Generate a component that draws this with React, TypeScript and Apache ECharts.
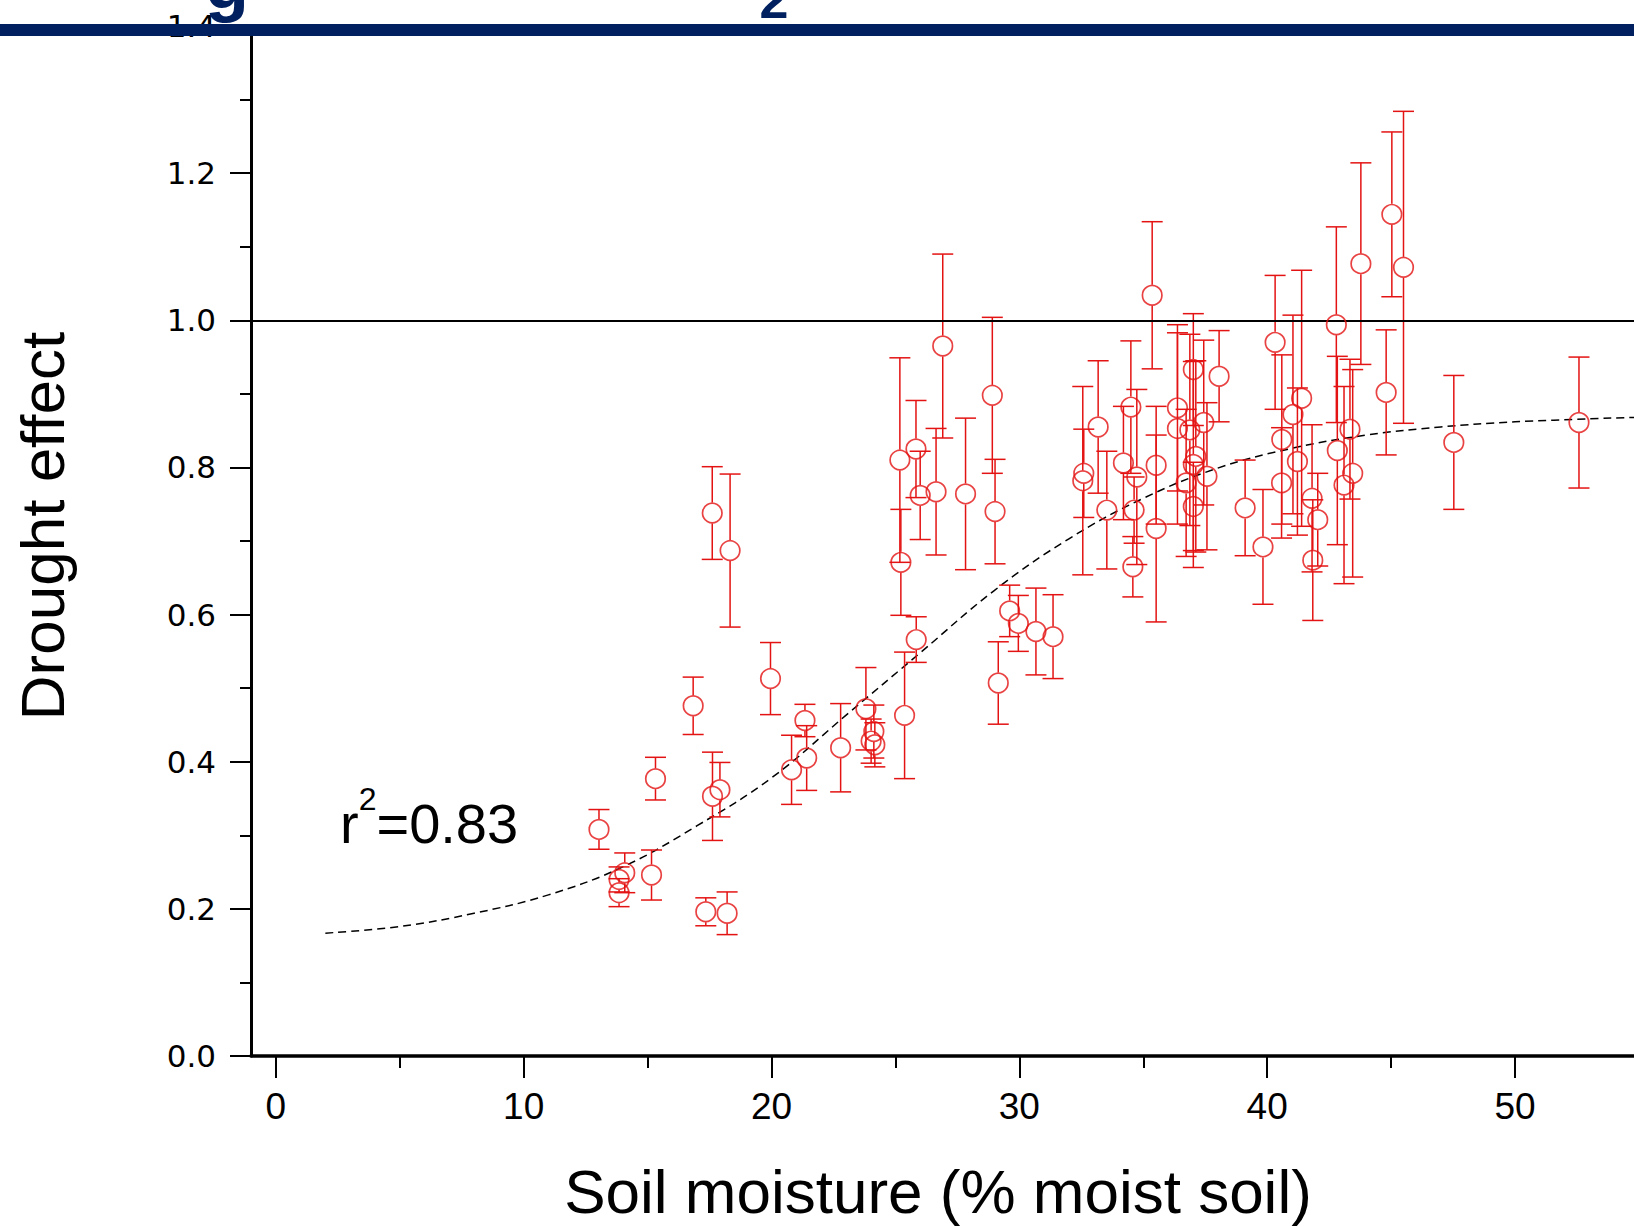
import React, { useEffect, useRef } from "react";
import * as echarts from "echarts";

// Soil moisture (% moist soil) of each site
const soilMoisture: number[] = [
  13.04, 13.85, 13.85, 14.08, 15.16, 15.32, 16.84, 17.35, 17.62, 17.92, 18.21, 17.61, 18.33, 19.96,
  20.81, 21.35, 21.42, 22.79, 23.81, 24.13, 24.02, 24.17, 25.37, 25.84, 25.22, 25.18, 25.83, 26.0,
  26.64, 26.91, 27.83, 28.91, 29.02, 29.15, 29.61, 29.96, 30.67, 31.36, 32.56, 32.6, 33.18, 33.53,
  34.2, 34.5, 34.74, 34.63, 34.58, 35.36, 35.52, 35.52, 36.38, 36.38, 36.73, 36.88, 37.02, 37.02,
  37.12, 37.02, 37.44, 37.57, 38.06, 39.11, 39.83, 40.32, 40.59, 40.58, 41.04, 41.39, 41.22, 41.81,
  42.04, 41.84, 42.79, 42.83, 43.34, 43.1, 43.45, 43.78, 44.8, 45.03, 45.5, 47.53, 52.58,
];
// Drought effect of each site
const droughtEffect: number[] = [
  0.308, 0.24, 0.222, 0.249, 0.246, 0.377, 0.476, 0.196, 0.353, 0.362, 0.194, 0.738, 0.687, 0.513,
  0.389, 0.456, 0.405, 0.419, 0.472, 0.441, 0.428, 0.423, 0.463, 0.566, 0.671, 0.81, 0.825, 0.762,
  0.767, 0.965, 0.764, 0.898, 0.74, 0.507, 0.605, 0.588, 0.577, 0.57, 0.782, 0.792, 0.855, 0.742,
  0.806, 0.882, 0.787, 0.742, 0.665, 1.034, 0.803, 0.717, 0.881, 0.853, 0.779, 0.851, 0.933, 0.804,
  0.815, 0.747, 0.861, 0.788, 0.924, 0.745, 0.692, 0.97, 0.838, 0.779, 0.872, 0.894, 0.808, 0.758,
  0.729, 0.674, 0.994, 0.823, 0.852, 0.776, 0.792, 1.077, 0.902, 1.144, 1.072, 0.834, 0.861,
];
// Half-length of each error bar
const errorHalf: number[] = [
  0.027, 0.017, 0.019, 0.027, 0.034, 0.029, 0.039, 0.019, 0.06, 0.037, 0.029, 0.063, 0.104, 0.049,
  0.047, 0.022, 0.044, 0.06, 0.056, 0.036, 0.03, 0.03, 0.086, 0.031, 0.072, 0.139, 0.066, 0.06,
  0.086, 0.125, 0.103, 0.106, 0.071, 0.056, 0.035, 0.038, 0.059, 0.057, 0.128, 0.06, 0.09, 0.08,
  0.077, 0.09, 0.119, 0.045, 0.041, 0.1, 0.08, 0.127, 0.113, 0.13, 0.1, 0.13, 0.076, 0.14,
  0.13, 0.06, 0.112, 0.1, 0.062, 0.065, 0.078, 0.091, 0.115, 0.075, 0.135, 0.174, 0.1, 0.1,
  0.063, 0.082, 0.133, 0.128, 0.095, 0.134, 0.141, 0.137, 0.085, 0.112, 0.212, 0.091, 0.089,
];
// Fitted curve
const fitX: number[] = [2, 5, 8, 11, 14, 17, 20, 23, 26, 29, 32, 35, 38, 41, 44, 47, 50, 54.8];
const fitY: number[] = [0.167, 0.176, 0.194, 0.219, 0.257, 0.313, 0.378, 0.463, 0.548, 0.633, 0.703, 0.758, 0.799, 0.826, 0.844, 0.855, 0.862, 0.868];

const xMajorTicks: number[] = [0, 10, 20, 30, 40, 50];
const xMinorTicks: number[] = [5, 15, 25, 35, 45];
const referenceLevel = 1.0;

const RED = "#e41313";
const NAVY = "#002060";
const FONT = "'Liberation Sans', Arial, sans-serif";

export default function App() {
  const ref = useRef<HTMLDivElement>(null);

  useEffect(() => {
    if (!ref.current) return;
    const chart = echarts.init(ref.current, undefined, { renderer: "svg" });
    const points = soilMoisture.map((x, i) => [x, droughtEffect[i]]);
    const bars = soilMoisture.map((x, i) => [x, droughtEffect[i], errorHalf[i]]);
    const fit = fitX.map((x, i) => [x, fitY[i]]);
    const R = 10.5;
    const CAP = 10.5;

    chart.setOption({
      animation: false,
      backgroundColor: "#ffffff",
      grid: { left: 251, right: 0, top: 26, bottom: 171, containLabel: false },
      xAxis: [
        {
          type: "value",
          min: -1,
          max: 54.8,
          position: "bottom",
          axisLine: { show: true, onZero: false, lineStyle: { color: "#000", width: 3.5 } },
          axisTick: { show: true, customValues: xMajorTicks, length: 22, lineStyle: { color: "#000", width: 2 } },
          axisLabel: {
            show: true,
            customValues: xMajorTicks,
            fontSize: 37,
            fontFamily: FONT,
            color: "#000",
            margin: 32,
          },
          splitLine: { show: false },
        },
        {
          type: "value",
          min: -1,
          max: 54.8,
          position: "bottom",
          axisLine: { show: false },
          axisTick: { show: true, customValues: xMinorTicks, length: 12, lineStyle: { color: "#000", width: 2 } },
          axisLabel: { show: false },
          splitLine: { show: false },
        },
      ],
      yAxis: {
        type: "value",
        min: 0,
        max: 1.4,
        interval: 0.2,
        axisLine: { show: true, onZero: false, lineStyle: { color: "#000", width: 3 } },
        axisTick: { show: true, length: 21, lineStyle: { color: "#000", width: 2 } },
        minorTick: { show: true, splitNumber: 2, length: 11, lineStyle: { color: "#000", width: 2 } },
        axisLabel: {
          formatter: (v: number) => v.toFixed(1),
          fontSize: 31,
          fontFamily: "'DejaVu Sans', sans-serif",
          color: "#000",
          margin: 35,
        },
        splitLine: { show: false },
        minorSplitLine: { show: false },
      },
      series: [
        {
          type: "line",
          data: fit,
          smooth: 0.4,
          symbol: "none",
          lineStyle: { color: "#000", width: 1.5, type: [8, 5] },
          silent: true,
          z: 3,
        },
        {
          type: "custom",
          data: bars,
          silent: true,
          z: 4,
          renderItem: (params: any, api: any) => {
            const x = api.value(0);
            const y = api.value(1);
            const e = api.value(2);
            const c = api.coord([x, y]);
            const t = api.coord([x, y + e]);
            const b = api.coord([x, y - e]);
            const style = { stroke: RED, lineWidth: 1.5, fill: "none" };
            const children: any[] = [];
            if (t[1] < c[1] - R) {
              children.push({ type: "line", shape: { x1: c[0], y1: c[1] - R, x2: c[0], y2: t[1] }, style });
            }
            if (b[1] > c[1] + R) {
              children.push({ type: "line", shape: { x1: c[0], y1: c[1] + R, x2: c[0], y2: b[1] }, style });
            }
            children.push({ type: "line", shape: { x1: c[0] - CAP, y1: t[1], x2: c[0] + CAP, y2: t[1] }, style });
            children.push({ type: "line", shape: { x1: c[0] - CAP, y1: b[1], x2: c[0] + CAP, y2: b[1] }, style });
            return { type: "group", children };
          },
        },
        {
          type: "scatter",
          data: points,
          symbol: "circle",
          symbolSize: 19.5,
          itemStyle: { color: "rgba(255,255,255,0)", borderColor: RED, borderWidth: 1.7 },
          z: 5,
          markLine: {
            silent: true,
            symbol: ["none", "none"],
            label: { show: false },
            lineStyle: { color: "#000", width: 2, type: "solid" },
            data: [{ yAxis: referenceLevel }],
          },
        },
      ],
      graphic: [
        {
          type: "text",
          x: 227,
          y: -17,
          z: 90,
          style: { text: "g", fontSize: 72, fontWeight: "bold", fontFamily: FONT, fill: NAVY, align: "center", verticalAlign: "middle" },
        },
        {
          type: "text",
          x: 774,
          y: 0,
          z: 90,
          style: { text: "2", fontSize: 52, fontWeight: "bold", fontFamily: FONT, fill: NAVY, align: "center", verticalAlign: "middle" },
        },
        {
          type: "rect",
          z: 100,
          shape: { x: 0, y: 24, width: 1634, height: 12 },
          style: { fill: NAVY },
        },
        {
          type: "text",
          x: 42,
          y: 526,
          rotation: Math.PI / 2,
          style: { text: "Drought effect", fontSize: 62, fontFamily: FONT, fill: "#000", align: "center", verticalAlign: "middle" },
        },
        {
          type: "text",
          x: 938,
          y: 1191,
          style: { text: "Soil moisture (% moist soil)", fontSize: 62, fontFamily: FONT, fill: "#000", align: "center", verticalAlign: "middle" },
        },
        {
          type: "text",
          x: 340,
          y: 823,
          style: {
            text: "{a|r}{b|2}{a|=0.83}",
            align: "left",
            verticalAlign: "middle",
            rich: {
              a: { fontSize: 56, lineHeight: 80, fontFamily: FONT, fill: "#000", color: "#000" },
              b: { fontSize: 32, lineHeight: 32, fontFamily: FONT, fill: "#000", color: "#000", verticalAlign: "top" },
            },
          },
        },
      ],
    });
    return () => chart.dispose();
  }, []);

  return (
    <div
      ref={ref}
      style={{ position: "fixed", left: 0, top: 0, width: 1634, height: 1227, background: "#fff" }}
    />
  );
}
